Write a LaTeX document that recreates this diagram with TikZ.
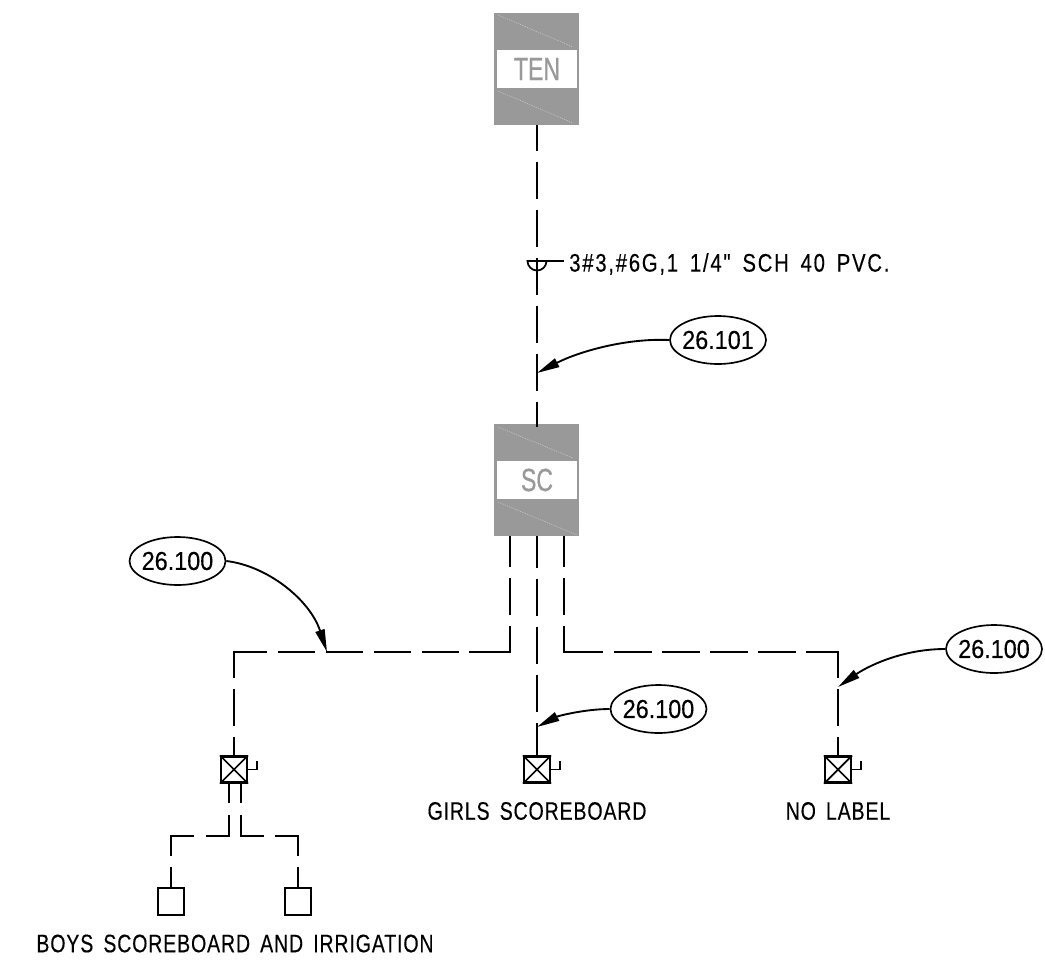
\documentclass[tikz,border=0pt]{standalone}
\usepackage{fontspec}
\setmainfont{Liberation Sans}
\newfontfamily\cadfont[FakeStretch=0.77,LetterSpace=3.5,WordSpace=1.6,FakeBold=0.3]{Liberation Sans}
\newfontfamily\cablefont[FakeStretch=0.8,LetterSpace=7,WordSpace=1.6,FakeBold=0.3]{Liberation Sans}
\newfontfamily\tagfont[FakeStretch=0.9,FakeBold=0.3]{Liberation Sans}
\newfontfamily\panelfont[FakeStretch=0.72,FakeBold=0.5]{Liberation Sans}
\newcommand\tagtext[1]{\makebox[0pt]{#1}}
\usetikzlibrary{arrows.meta,shapes.geometric}
\definecolor{pgray}{RGB}{153,153,153}
\tikzset{
 wire/.style={line width=1.25pt,black},
 thin wire/.style={line width=1.3pt,black},
 panelbody/.style={fill=pgray,draw=none,minimum width=63.75pt,minimum height=84pt,inner sep=0pt},
 panellabel/.style={fill=white,draw=none,minimum width=60pt,minimum height=28.5pt,inner sep=0pt,text=pgray,font=\panelfont\fontsize{24}{24}\selectfont},
 hatch/.style={draw=white!45!pgray,line width=0.4pt,dash pattern=on 1pt off 0.8pt},
 tagnode/.style={ellipse,draw,line width=1.25pt,fill=white,minimum width=72pt,minimum height=36pt,inner sep=0pt,font=\tagfont\fontsize{19.5}{19.5}\selectfont},
 leader/.style={line width=1.4pt,-{Triangle[length=17pt,width=7pt]}},
 feeder dash/.style={wire,dash pattern=on 27.75pt off 8.25pt},
 swbox/.style={draw,line width=1.6pt,minimum size=19.5pt,inner sep=0pt,fill=white},
 loadbox/.style={draw,line width=1.4pt,minimum size=20pt,inner sep=0pt,fill=white},
 caption/.style={font=\cadfont\fontsize{19}{19}\selectfont,inner sep=0pt},
 cablecaption/.style={font=\cablefont\fontsize{19}{19}\selectfont,inner sep=0pt},
}
\begin{document}
\begin{tikzpicture}[x=0.75pt,y=-0.75pt]
\useasboundingbox (0,0) rectangle (1045,964);
% panels
\node[panelbody] (ten) at (536.5,69) {};
\draw[hatch] (498,15) -- (573,47);
\draw[hatch] (498,91) -- (573,123);
\node[panellabel] (tenl) at (537,69) {TEN};
\node[panelbody] (sc) at (536.5,480) {};
\draw[hatch] (498,427) -- (573,458);
\draw[hatch] (498,502) -- (577,535);
\node[panellabel] (scl) at (537,480) {SC};
% coordinates
\coordinate (tenb) at (537,125);
\coordinate (sct) at (537,427);
\coordinate (sl) at (510,536);
\coordinate (sm) at (537,536);
\coordinate (sr) at (564,536);
% switches
\node[swbox] (sw1) at (234,769.5) {};
\node[swbox] (sw2) at (537,769.5) {};
\node[swbox] (sw3) at (838,769.5) {};
\foreach \s in {sw1,sw2,sw3}{
  \draw[thin wire] (\s.north west) -- (\s.south east) (\s.north east) -- (\s.south west);
  \draw[thin wire] (\s.east) -- ++(9,0) -- ++(0,-9);
}
\node[loadbox] (l1) at (171,901.5) {};
\node[loadbox] (l2) at (298,901.5) {};
% main feeder
\draw[feeder dash,dash phase=8.25pt] (tenb) -- (sct);
% conduit symbol
\coordinate (wedge) at (537,261);
\draw[thin wire] (527.5,261) arc[start angle=180,end angle=360,x radius=9.5,y radius=-9.5] -- cycle;
\draw[thin wire] (wedge) -- (564,261);
% branches (dash lists in px x 0.75)
\draw[wire,dash pattern=on 23.25pt off 8.25pt on 27.75pt off 8.25pt on 50.25pt off 7.5pt on 27.75pt off 8.25pt on 27.75pt off 8.25pt on 27.75pt off 8.25pt on 27.75pt off 8.25pt on 44.25pt off 8.25pt on 27.75pt off 8.25pt on 30pt off 1pt] (sl) -- (510,652) -- (234,652) -- (sw1.north);
\draw[feeder dash,dash phase=3.75pt] (sm) -- (sw2.north);
\draw[wire,dash pattern=on 23.25pt off 8.25pt on 27.75pt off 8.25pt on 48.75pt off 8.25pt on 28.5pt off 7.5pt on 28.5pt off 7.5pt on 28.5pt off 7.5pt on 28.5pt off 7.5pt on 43.5pt off 8.25pt on 27.75pt off 8.25pt on 30pt off 1pt] (sr) -- (564,652) -- (838,652) -- (sw3.north);
% under sw1
\draw[wire] (229,783) -- (229,803) (229,815) -- (229,836) -- (205.5,836) (194,836) -- (171,836) -- (171,856) (171,867) -- (l1.north);
\draw[wire] (241,783) -- (241,803) (241,815) -- (241,836) -- (263.5,836) (275,836) -- (298,836) -- (298,856) (298,867) -- (l2.north);
% tags
\node[tagnode] (t1) at (718,340) {\tagtext{26.101}};
\node[tagnode] (t2) at (177.5,561) {\tagtext{26.100}};
\node[tagnode] (t3) at (658.5,709) {\tagtext{26.100}};
\node[tagnode] (t4) at (994,649) {\tagtext{26.100}};
\coordinate (a1) at (537,373);
\coordinate (a2) at (327,652);
\coordinate (a3) at (537,727);
\coordinate (a4) at (838,687);
\draw[leader] (t1.west) .. controls (625,338) and (578,352) .. (a1);
\draw[leader] (t2.east) .. controls (268,566) and (310,600) .. (a2);
\draw[leader] (t3.west) .. controls (585,709) and (558,716) .. (a3);
\draw[leader] (t4.west) .. controls (900,649) and (865,668) .. (a4);
% text
\node[cablecaption,anchor=west] (cab) at (569,264) {3\#3,\#6G,1 1/4" SCH 40 PVC.};
\node[caption] (c1) at (537,811) {GIRLS SCOREBOARD};
\node[caption] (c2) at (838,811) {NO LABEL};
\node[caption] (c3) at (235,943.5) {BOYS SCOREBOARD AND IRRIGATION};
\end{tikzpicture}
\end{document}
